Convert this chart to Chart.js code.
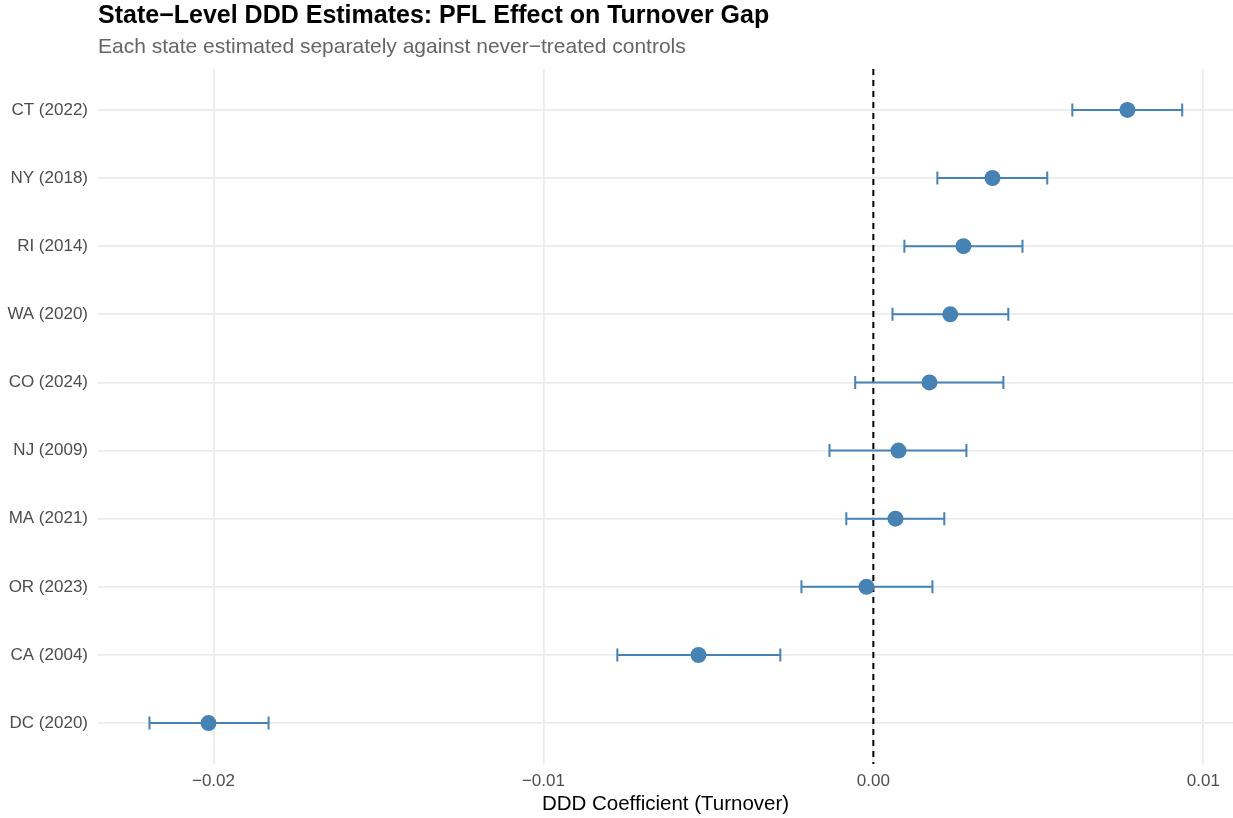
<!DOCTYPE html>
<html>
<head>
<meta charset="utf-8">
<script src="https://cdn.jsdelivr.net/npm/chart.js@4.4.0/dist/chart.umd.min.js"></script>
<style>
  html, body { margin: 0; padding: 0; background: #fff; overflow: hidden; }
  #wrap { width: 1233px; height: 818px; position: relative; }
</style>
</head>
<body>
<div id="wrap"><canvas id="forest" width="1233" height="818"></canvas></div>
<script>
// State-level DDD estimates (top to bottom)
const states = ['CT (2022)', 'NY (2018)', 'RI (2014)', 'WA (2020)', 'CO (2024)',
                'NJ (2009)', 'MA (2021)', 'OR (2023)', 'CA (2004)', 'DC (2020)'];
const estimates = [0.0077, 0.00361, 0.00273, 0.00233, 0.0017,
                   0.00076, 0.00067, -0.00021, -0.0053, -0.02015];
const lower = [0.00603, 0.00194, 0.00094, 0.00058, -0.00055,
               -0.00133, -0.00082, -0.00218, -0.00776, -0.02194];
const upper = [0.00936, 0.00527, 0.00452, 0.00409, 0.00394,
               0.00282, 0.00215, 0.00179, -0.00282, -0.01833];
const xTicks = [-0.02, -0.01, 0, 0.01];

const steel = '#4682B4';
const fontFam = '"Liberation Sans", Arial, sans-serif';

// zero line, error bars and the titles
const forestPlugin = {
    id: 'forest',
    beforeDatasetsDraw(chart) {
        const ctx = chart.ctx;
        const xs = chart.scales.x, ys = chart.scales.y;
        const area = chart.chartArea;

        // dashed reference line at 0
        const x0 = xs.getPixelForValue(0);
        ctx.save();
        ctx.strokeStyle = '#000';
        ctx.lineWidth = 2;
        ctx.setLineDash([6, 5]);
        ctx.beginPath();
        ctx.moveTo(x0, area.top);
        ctx.lineTo(x0, area.bottom);
        ctx.stroke();
        ctx.restore();

        // error bars
        ctx.save();
        ctx.strokeStyle = steel;
        ctx.lineWidth = 2;
        states.forEach((s, i) => {
            const y = ys.getPixelForValue(i);
            const a = xs.getPixelForValue(lower[i]);
            const b = xs.getPixelForValue(upper[i]);
            ctx.beginPath();
            ctx.moveTo(a, y); ctx.lineTo(b, y);
            ctx.moveTo(a, y - 6.5); ctx.lineTo(a, y + 6.5);
            ctx.moveTo(b, y - 6.5); ctx.lineTo(b, y + 6.5);
            ctx.stroke();
        });
        ctx.restore();
    },
    afterDraw(chart) {
        const ctx = chart.ctx;
        ctx.save();
        ctx.textAlign = 'left';
        ctx.textBaseline = 'alphabetic';
        ctx.fillStyle = '#000';
        ctx.font = 'bold 25px ' + fontFam;
        ctx.fillText('State\u2212Level DDD Estimates: PFL Effect on Turnover Gap', 98, 23);
        ctx.fillStyle = '#666666';
        ctx.font = '21px ' + fontFam;
        ctx.fillText('Each state estimated separately against never\u2212treated controls', 98, 53);
        ctx.restore();
    }
};

new Chart(document.getElementById('forest').getContext('2d'), {
    type: 'scatter',
    data: {
        datasets: [{
            data: estimates.map((v, i) => ({ x: v, y: i })),
            backgroundColor: steel,
            borderWidth: 0,
            pointRadius: 8,
            pointHoverRadius: 8
        }]
    },
    options: {
        responsive: false,
        animation: false,
        events: [],
        layout: { autoPadding: false, padding: { top: 69, right: 0, bottom: 0, left: 0 } },
        plugins: {
            legend: { display: false },
            tooltip: { enabled: false },
            title: { display: false }
        },
        scales: {
            x: {
                type: 'linear',
                min: -0.0235,
                max: 0.0109,
                afterBuildTicks: (scale) => { scale.ticks = xTicks.map(v => ({ value: v })); },
                afterFit: (scale) => {
                    scale.height = 54;
                    scale.paddingLeft = 0;
                    scale.paddingRight = 0;
                },
                grid: { color: '#ebebeb', lineWidth: 1.8, drawTicks: false },
                border: { display: false },
                ticks: {
                    padding: 7,
                    color: '#4d4d4d',
                    font: { family: fontFam, size: 17 },
                    callback: (v) => v.toFixed(2).replace('-', '\u2212')
                },
                title: {
                    display: true,
                    text: 'DDD Coefficient (Turnover)',
                    color: '#000',
                    font: { family: fontFam, size: 20.5 },
                    padding: { top: 0, bottom: 1 }
                }
            },
            y: {
                type: 'linear',
                reverse: true,
                min: -0.6,
                max: states.length - 0.4,
                afterBuildTicks: (scale) => { scale.ticks = states.map((s, i) => ({ value: i })); },
                afterFit: (scale) => {
                    scale.width = 98;
                    scale.paddingTop = 0;
                    scale.paddingBottom = 0;
                },
                grid: { color: '#ebebeb', lineWidth: 1.8, drawTicks: false },
                border: { display: false },
                ticks: {
                    padding: 10,
                    color: '#4d4d4d',
                    font: { family: fontFam, size: 17 },
                    callback: (v) => states[v]
                }
            }
        }
    },
    plugins: [forestPlugin]
});
</script>
</body>
</html>
